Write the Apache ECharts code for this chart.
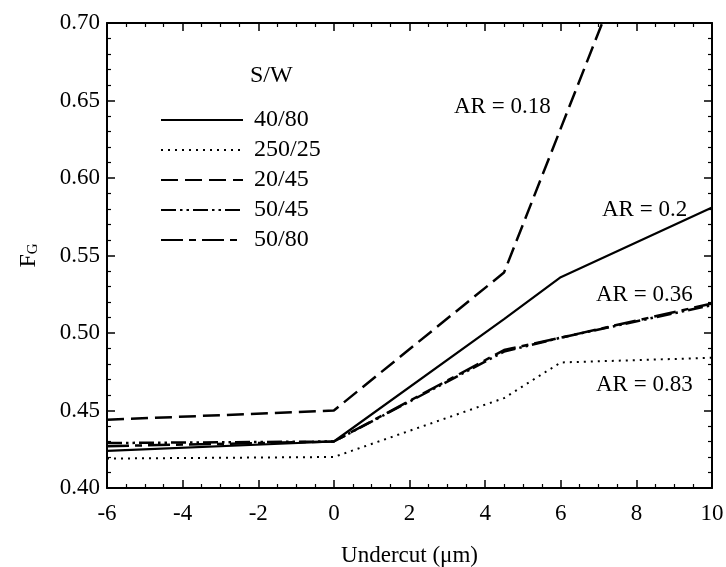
<!DOCTYPE html>
<html><head><meta charset="utf-8">
<script src="https://cdn.jsdelivr.net/npm/echarts@6/dist/echarts.min.js"></script>
<style>html,body{margin:0;padding:0;background:#fff}#c{width:726px;height:567px}</style>
</head><body><div id="c"></div>
<script>
var seriesNames = ['40/80', '250/25', '20/45', '50/45', '50/80'];
var undercut = [-6, 0, 4.5, 6, 10];
var fg_40_80  = [0.424, 0.430, 0.509, 0.536, 0.581];
var fg_250_25 = [0.419, 0.420, 0.458, 0.481, 0.484];
var fg_20_45  = [0.444, 0.450, 0.539, 0.632, 0.880];
var fg_50_45  = [0.429, 0.430, 0.488, 0.497, 0.518];
var fg_50_80  = [0.427, 0.430, 0.489, 0.497, 0.519];
var arLabels = ['AR = 0.18', 'AR = 0.2', 'AR = 0.36', 'AR = 0.83'];
var legendTitle = 'S/W';

var FONT = 'Liberation Serif';
function pts(ys){ return undercut.map(function(x,i){ return [x, ys[i]]; }); }
var styles = [
  {type:'solid', width:2.2},
  {type:[2,5], width:2},
  {type:[17,7], width:2.5},
  {type:[15,4,2.5,4,2.5,4], width:2.5},
  {type:[22,6,7,6], width:2.5}
];
var allY = [fg_40_80, fg_250_25, fg_20_45, fg_50_45, fg_50_80];
var series = seriesNames.map(function(n,i){
  return {name:n, type:'line', data:pts(allY[i]), symbol:'none', clip:true,
    lineStyle:{color:'#000', width:styles[i].width, type:styles[i].type, cap:'butt'},
    itemStyle:{color:'#000'}, animation:false};
});
var chart = echarts.init(document.getElementById('c'));
var tickCommon = {inside:true, length:8, lineStyle:{color:'#000', width:1.5}};
var minorCommon = {show:true, length:4, lineStyle:{color:'#000', width:1.2}};
var txt = function(t, x, y){ return {type:'text', x:x, y:y,
  style:{text:t, font:'23px "Liberation Serif"', fill:'#000', verticalAlign:'middle'}}; };
chart.setOption({
  animation:false,
  grid:{left:107, right:14, top:23, bottom:79, outerBoundsMode:'none', containLabel:false},
  legend:{orient:'vertical', left:155, top:103, itemWidth:82, itemHeight:14, itemGap:6,
    itemStyle:{opacity:0, borderWidth:0},
    textStyle:{fontFamily:FONT, fontSize:24, color:'#000', padding:[0,0,0,6]},
    data:seriesNames},
  xAxis:[{type:'value', min:-6, max:10, interval:2,
    axisLine:{show:true, onZero:false, lineStyle:{color:'#000', width:2}},
    axisTick:tickCommon, minorTick:Object.assign({splitNumber:4}, minorCommon),
    splitLine:{show:false},
    axisLabel:{fontFamily:FONT, fontSize:23, color:'#000', margin:14},
    name:'Undercut (\u03bcm)', nameLocation:'middle', nameGap:56,
    nameTextStyle:{fontFamily:FONT, fontSize:23, color:'#000'}},
   {type:'value', position:'top', min:-6, max:10, interval:2,
    axisLine:{show:true, onZero:false, lineStyle:{color:'#000', width:2}},
    axisTick:tickCommon, minorTick:Object.assign({splitNumber:4}, minorCommon),
    splitLine:{show:false}, axisLabel:{show:false}}],
  yAxis:[{type:'value', min:0.40, max:0.70, interval:0.05,
    axisLine:{show:true, onZero:false, lineStyle:{color:'#000', width:2}},
    axisTick:tickCommon, minorTick:Object.assign({splitNumber:5}, minorCommon),
    splitLine:{show:false},
    axisLabel:{fontFamily:FONT, fontSize:23, color:'#000', margin:7,
      formatter:function(v){return v.toFixed(2);}},
    name:'F{s|G}', nameLocation:'middle', nameGap:66, nameRotate:90,
    nameTextStyle:{fontFamily:FONT, fontSize:24, color:'#000',
      rich:{s:{fontFamily:FONT, fontSize:15, color:'#000', verticalAlign:'bottom', padding:[9,0,0,0]}}}},
   {type:'value', position:'right', min:0.40, max:0.70, interval:0.05,
    axisLine:{show:true, onZero:false, lineStyle:{color:'#000', width:2}},
    axisTick:tickCommon, minorTick:Object.assign({splitNumber:5}, minorCommon),
    splitLine:{show:false}, axisLabel:{show:false}}],
  graphic:[
    {type:'text', x:250, y:76, style:{text:legendTitle, font:'24px "Liberation Serif"', fill:'#000', verticalAlign:'middle'}},
    txt(arLabels[0], 454, 107),
    txt(arLabels[1], 602, 210),
    txt(arLabels[2], 596, 295),
    txt(arLabels[3], 596, 385)
  ],
  series:series
});
</script></body></html>
